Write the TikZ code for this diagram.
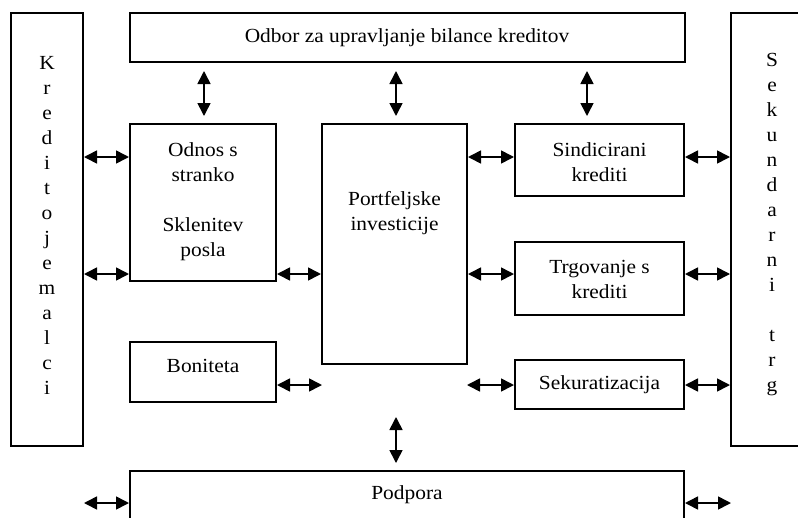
\documentclass[tikz,border=0pt]{standalone}
\usepackage{fontspec}
\setmainfont{Liberation Serif}[FakeStretch=1.07]
\usetikzlibrary{arrows.meta}
\begin{document}
\begin{tikzpicture}[x=1pt,y=-1pt,
  box/.style={draw, line width=2pt, inner sep=0pt, minimum width=#1},
  txt/.style={align=center, inner sep=0pt, font=\fontsize{20}{25}\selectfont},
  arr/.style={line width=1.6pt, {Triangle[length=13pt,width=13pt]}-{Triangle[length=13pt,width=13pt]}}]
\useasboundingbox (0,0) rectangle (798,517);
\clip (0,0) rectangle (798,517);
% boxes
\node[box=72, minimum height=433] (kred) at (47,229.5) {};
\node[box=555, minimum height=49] (odbor) at (407.5,37.5) {};
\node[box=99, minimum height=433] (sek) at (780.5,229.5) {};
\node[box=146, minimum height=157] (odnos) at (203,202.5) {};
\node[box=145, minimum height=240] (port) at (394.5,244) {};
\node[box=169, minimum height=72] (sind) at (599.5,160) {};
\node[box=169, minimum height=73] (trg) at (599.5,278.5) {};
\node[box=169, minimum height=49] (sekur) at (599.5,384.5) {};
\node[box=146, minimum height=60] (bon) at (203,372) {};
\node[box=554, minimum height=89] (podp) at (407,515.5) {};
% texts
\node[txt] (tkred) at (47,225) {K\\r\\e\\d\\i\\t\\o\\j\\e\\m\\a\\l\\c\\i};
\node[txt] (tsek) at (772,225) {S\\e\\k\\u\\n\\d\\a\\r\\n\\i\\[25pt]t\\r\\g};
\node[txt] (todbor) at (407,38) {Odbor za upravljanje bilance kreditov};
\node[txt] (todnos) at (203,202) {Odnos s\\stranko\\[25pt]Sklenitev\\posla};
\node[txt] (tport) at (394.5,213) {Portfeljske\\investicije};
\node[txt] (tsind) at (599.5,162) {Sindicirani\\krediti};
\node[txt] (ttrg) at (599.5,279) {Trgovanje s\\krediti};
\node[txt] (tsekur) at (599.5,385) {Sekuratizacija};
\node[txt] (tbon) at (203,366) {Boniteta};
\node[txt] (tpodp) at (407,495) {Podpora};
% helper coordinates
\coordinate (ya) at (0,157);
\coordinate (yb) at (0,274);
\coordinate (yc) at (0,385);
\coordinate (yd) at (0,503);
\coordinate (xa) at (204,0);
\coordinate (xb) at (396,0);
\coordinate (xc) at (587,0);
\coordinate (bonfree) at (322,385);
\coordinate (sekfree) at (467,385);
\coordinate (podl) at (84,503);
\coordinate (podr) at (731,503);
\coordinate (va) at (396,417);
\coordinate (vb) at (396,463);
% vertical arrows
\draw[arr, shorten <=8pt, shorten >=7pt] (odbor.south -| xa) -- (odnos.north -| xa);
\draw[arr, shorten <=8pt, shorten >=7pt] (odbor.south -| xb) -- (port.north -| xb);
\draw[arr, shorten <=8pt, shorten >=7pt] (odbor.south -| xc) -- (sind.north -| xc);
\draw[arr] (va) -- (vb);
% horizontal arrows
\draw[arr] (kred.east |- ya) -- (odnos.west |- ya);
\draw[arr] (kred.east |- yb) -- (odnos.west |- yb);
\draw[arr] (odnos.east |- yb) -- (port.west |- yb);
\draw[arr] (port.east |- ya) -- (sind.west |- ya);
\draw[arr] (sind.east |- ya) -- (sek.west |- ya);
\draw[arr] (port.east |- yb) -- (trg.west |- yb);
\draw[arr] (trg.east |- yb) -- (sek.west |- yb);
\draw[arr] (bon.east |- yc) -- (bonfree);
\draw[arr] (sekfree) -- (sekur.west |- yc);
\draw[arr] (sekur.east |- yc) -- (sek.west |- yc);
\draw[arr] (podl) -- (podp.west |- yd);
\draw[arr] (podp.east |- yd) -- (podr);
\end{tikzpicture}
\end{document}
